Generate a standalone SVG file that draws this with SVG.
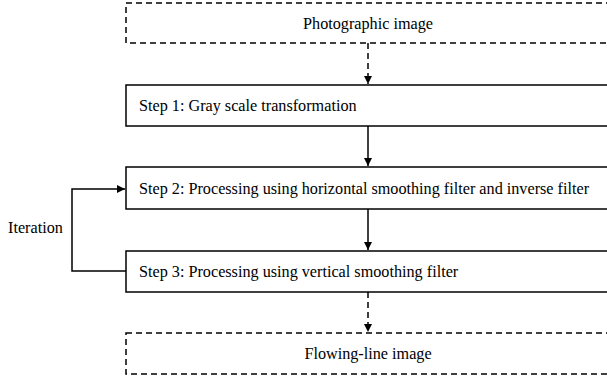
<svg xmlns="http://www.w3.org/2000/svg" width="607" height="376" viewBox="0 0 607 376">
<style>
text{font-family:"Liberation Serif","Times New Roman",serif;font-size:16.2px;fill:#000}
.box{fill:#fff;stroke:#000;stroke-width:1.5}
.dbox{fill:#fff;stroke:#000;stroke-width:1.5;stroke-dasharray:6,4}
.c{fill:none;stroke:#000;stroke-width:1.5}
.d{stroke-dasharray:6,4}
</style>
<defs>
<marker id="ah" markerWidth="10" markerHeight="10" refX="9" refY="5" orient="auto" markerUnits="userSpaceOnUse">
<path d="M1,1 L9,5 L1,9 Z" fill="#000"/>
</marker>
</defs>
<g id="connectors">
<line class="c d" x1="368" y1="43" x2="368" y2="84" marker-end="url(#ah)"/>
<line class="c" x1="368" y1="126" x2="368" y2="166" marker-end="url(#ah)"/>
<line class="c" x1="368" y1="209" x2="368" y2="250" marker-end="url(#ah)"/>
<polyline class="c" points="126,271 72,271 72,189 125,189" marker-end="url(#ah)"/>
<line class="c d" x1="368" y1="292" x2="368" y2="332" marker-end="url(#ah)"/>
</g>
<g id="photographic"><rect class="dbox" x="126" y="3" width="490" height="40"/><text x="368" y="29" text-anchor="middle">Photographic image</text></g>
<g id="step1"><rect class="box" x="126" y="85" width="490" height="41"/><text x="139" y="111">Step 1: Gray scale transformation</text></g>
<g id="step2"><rect class="box" x="126" y="167" width="490" height="42"/><text x="139" y="194">Step 2: Processing using horizontal smoothing filter and inverse filter</text></g>
<g id="step3"><rect class="box" x="126" y="251" width="490" height="41"/><text x="139" y="277">Step 3: Processing using vertical smoothing filter</text></g>
<g id="flowing"><rect class="dbox" x="126" y="333" width="490" height="41"/><text x="368" y="359" text-anchor="middle">Flowing-line image</text></g>
<g id="iteration"><text x="8" y="233">Iteration</text></g>
</svg>
